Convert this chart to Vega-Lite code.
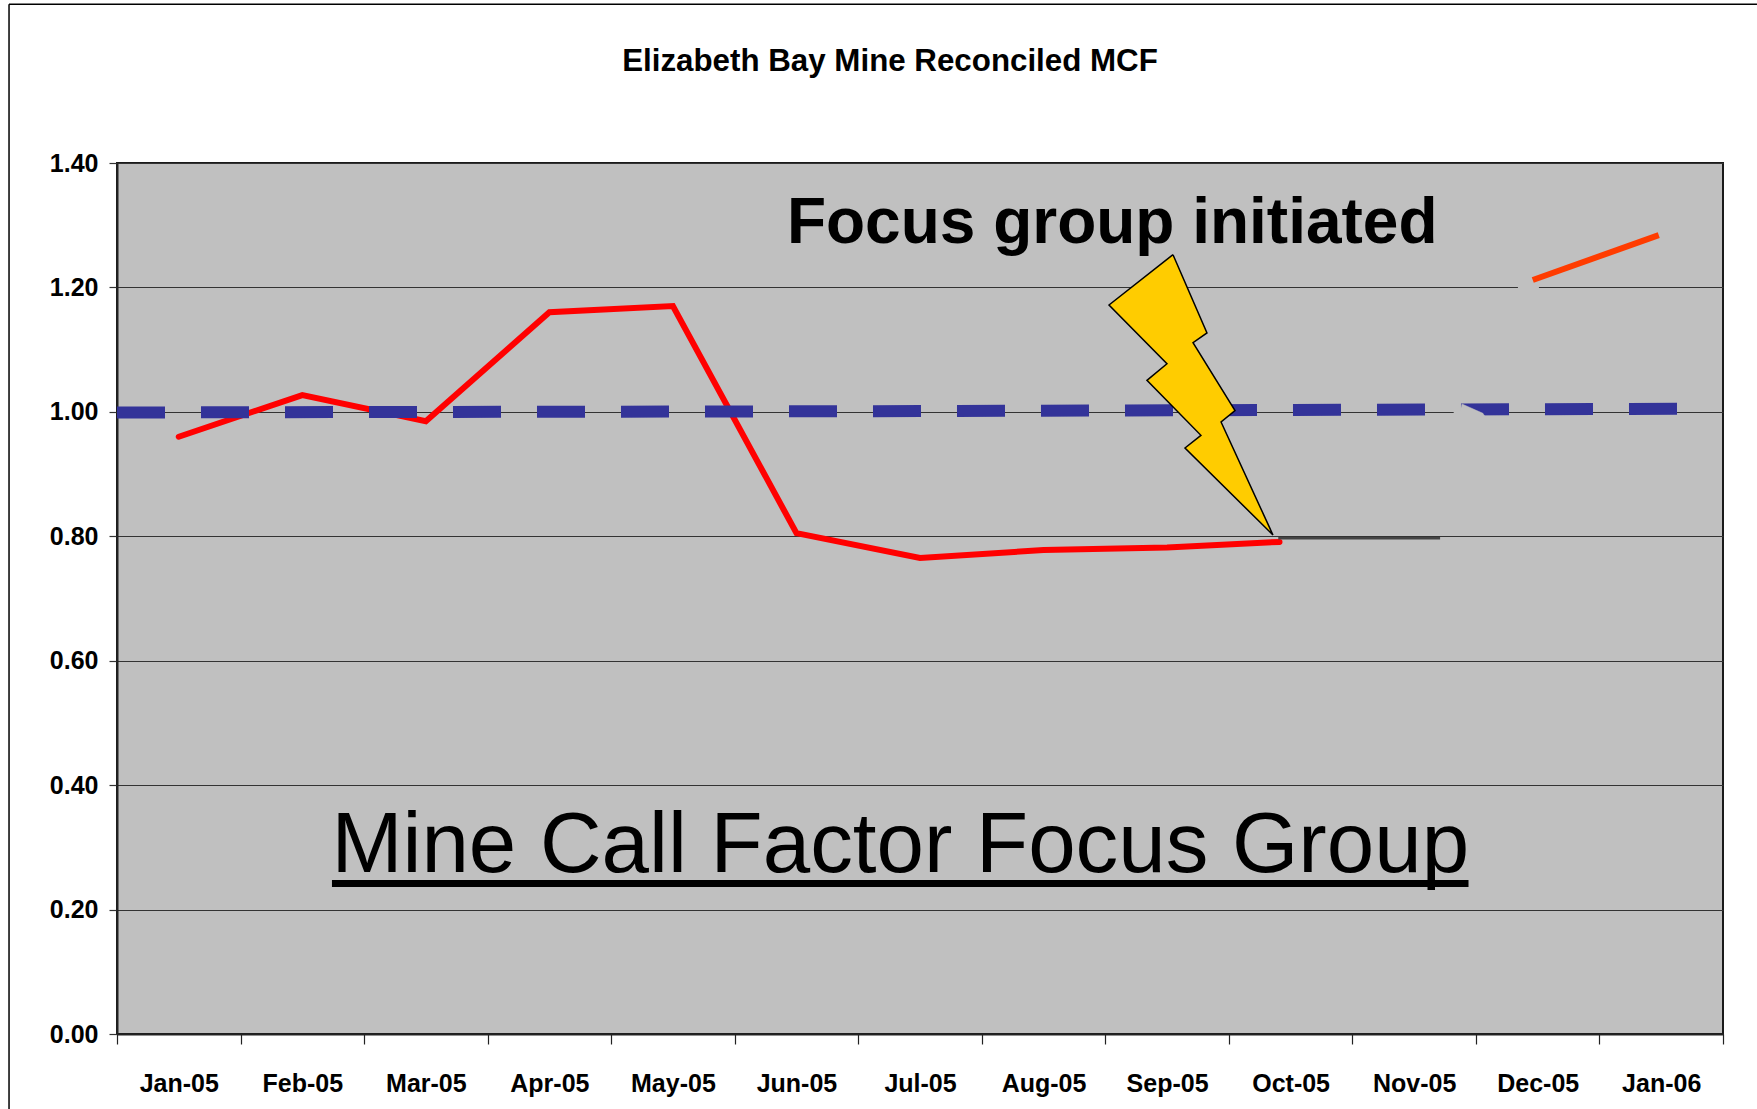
{"$schema":"https://vega.github.io/schema/vega-lite/v6.json","width":1606,"height":871,"autosize":"none","padding":{"left":117,"top":163,"right":34,"bottom":75},"background":"white","view":{"fill":"#C0C0C0","stroke":"#1a1a1a","strokeWidth":2},"title":{"text":"Elizabeth Bay Mine Reconciled MCF","font":"Liberation Sans","fontWeight":"bold","fontSize":31.3,"color":"black","anchor":"middle","dx":-30,"offset":-73.5},"layer":[{"data":{"values":[{"edge":"top","pos":-0.874,"pos2":13.275,"value":1.655}]},"mark":{"type":"rule","color":"black","strokeWidth":1.5,"clip":false},"encoding":{"x":{"field":"pos","type":"quantitative","scale":{"domain":[0,13],"nice":false,"zero":false},"title":null,"axis":{"values":[0,1,2,3,4,5,6,7,8,9,10,11,12,13],"labelExpr":"['Jan-05','Feb-05','Mar-05','Apr-05','May-05','Jun-05','Jul-05','Aug-05','Sep-05','Oct-05','Nov-05','Dec-05','Jan-06'][datum.value] || ''","labelOffset":61.77,"labelFont":"Liberation Sans","labelFontWeight":"bold","labelFontSize":25,"labelColor":"black","labelPadding":47,"labelBaseline":"alphabetic","labelOverlap":false,"labelFlush":false,"labelBound":false,"tickColor":"#222222","tickSize":10,"tickWidth":1.2,"domainColor":"#222222","domainWidth":2,"grid":false}},"x2":{"field":"pos2"},"y":{"field":"value","type":"quantitative","scale":{"domain":[0,1.4],"nice":false,"zero":false},"title":null,"axis":{"values":[0,0.2,0.4,0.6,0.8,1,1.2,1.4],"format":".2f","labelFont":"Liberation Sans","labelFontWeight":"bold","labelFontSize":25,"labelColor":"black","labelPadding":11,"tickColor":"#333333","tickSize":8,"tickWidth":1.2,"domainColor":"#222222","domainWidth":2,"grid":true,"gridColor":"#333333","gridWidth":1.2,"gridOpacity":1}}}},{"data":{"values":[{"edge":"left","pos":-0.874,"low":-0.1206,"high":1.655}]},"mark":{"type":"rule","color":"black","strokeWidth":1.5,"clip":false},"encoding":{"x":{"field":"pos","type":"quantitative"},"y":{"field":"low","type":"quantitative"},"y2":{"field":"high"}}},{"data":{"values":[{"gap":"grid 1.20","pos":11.34,"pos2":11.51,"value":1.2},{"gap":"grid 1.00","pos":10.82,"pos2":10.89,"value":1.0}]},"mark":{"type":"rule","color":"#C0C0C0","strokeWidth":3},"encoding":{"x":{"field":"pos","type":"quantitative"},"x2":{"field":"pos2"},"y":{"field":"value","type":"quantitative"}}},{"data":{"values":[{"month":"Jan-05","pos":0.5,"value":0.96},{"month":"Feb-05","pos":1.5,"value":1.027},{"month":"Mar-05","pos":2.5,"value":0.985},{"month":"Apr-05","pos":3.5,"value":1.16},{"month":"May-05","pos":4.5,"value":1.17},{"month":"Jun-05","pos":5.5,"value":0.805},{"month":"Jul-05","pos":6.5,"value":0.765},{"month":"Aug-05","pos":7.5,"value":0.778},{"month":"Sep-05","pos":8.5,"value":0.782},{"month":"Oct-05","pos":9.41,"value":0.791}]},"mark":{"type":"line","color":"#FF0000","strokeWidth":6,"strokeCap":"round","strokeJoin":"miter"},"encoding":{"x":{"field":"pos","type":"quantitative"},"y":{"field":"value","type":"quantitative"}}},{"data":{"values":[{"month":"Dec-05","pos":11.46,"value":1.212},{"month":"Jan-06","pos":12.48,"value":1.284}]},"mark":{"type":"line","color":"#FF3C00","strokeWidth":6,"strokeCap":"butt"},"encoding":{"x":{"field":"pos","type":"quantitative"},"y":{"field":"value","type":"quantitative"}}},{"data":{"values":[{"series":"target","pos":0,"value":0.999},{"series":"target","pos":6,"value":1.001},{"series":"target","pos":12.63,"value":1.005}]},"mark":{"type":"line","color":"#333399","strokeWidth":12,"strokeDash":[48,36],"strokeCap":"butt"},"encoding":{"x":{"field":"pos","type":"quantitative"},"y":{"field":"value","type":"quantitative"}}},{"data":{"values":[{"o":0,"pos":10.887,"value":1.0127},{"o":1,"pos":11.057,"value":0.9976},{"o":2,"pos":11.07,"value":0.9933},{"o":3,"pos":10.864,"value":0.9933},{"o":4,"pos":10.887,"value":1.0127}]},"mark":{"type":"line","fill":"#C0C0C0","stroke":"#C0C0C0","strokeWidth":0.5},"encoding":{"x":{"field":"pos","type":"quantitative"},"y":{"field":"value","type":"quantitative"},"order":{"field":"o","type":"quantitative"}}},{"data":{"values":[{"pos":9.4,"pos2":10.71,"value":0.797}]},"mark":{"type":"rule","color":"#444444","strokeWidth":2.5},"encoding":{"x":{"field":"pos","type":"quantitative"},"x2":{"field":"pos2"},"y":{"field":"value","type":"quantitative"}}},{"data":{"values":[{"o":0,"pos":8.548,"value":1.2526},{"o":1,"pos":8.823,"value":1.1268},{"o":2,"pos":8.71,"value":1.1112},{"o":3,"pos":9.05,"value":1.0019},{"o":4,"pos":8.937,"value":0.9837},{"o":5,"pos":9.357,"value":0.8021},{"o":6,"pos":8.645,"value":0.9419},{"o":7,"pos":8.774,"value":0.9623},{"o":8,"pos":8.337,"value":1.0507},{"o":9,"pos":8.499,"value":1.0774},{"o":10,"pos":8.03,"value":1.1718},{"o":11,"pos":8.548,"value":1.2526}]},"mark":{"type":"line","fill":"#FFCC00","stroke":"black","strokeWidth":1.5,"strokeJoin":"miter"},"encoding":{"x":{"field":"pos","type":"quantitative"},"y":{"field":"value","type":"quantitative"},"order":{"field":"o","type":"quantitative"}}},{"data":{"values":[{"label":"Focus group initiated","pos":8.056,"value":1.271}]},"mark":{"type":"text","font":"Liberation Sans","fontWeight":"bold","fontSize":64,"color":"black","align":"center","baseline":"alphabetic"},"encoding":{"x":{"field":"pos","type":"quantitative"},"y":{"field":"value","type":"quantitative"},"text":{"field":"label"}}},{"data":{"values":[{"label":"Mine Call Factor Focus Group","pos":6.34,"value":0.2604}]},"mark":{"type":"text","font":"Liberation Sans","fontSize":85.3,"color":"black","align":"center","baseline":"alphabetic"},"encoding":{"x":{"field":"pos","type":"quantitative"},"y":{"field":"value","type":"quantitative"},"text":{"field":"label"}}},{"data":{"values":[{"underline":"Mine Call Factor Focus Group","pos":1.74,"pos2":10.94,"value":0.2419}]},"mark":{"type":"rule","color":"black","strokeWidth":7},"encoding":{"x":{"field":"pos","type":"quantitative"},"x2":{"field":"pos2"},"y":{"field":"value","type":"quantitative"}}}]}
